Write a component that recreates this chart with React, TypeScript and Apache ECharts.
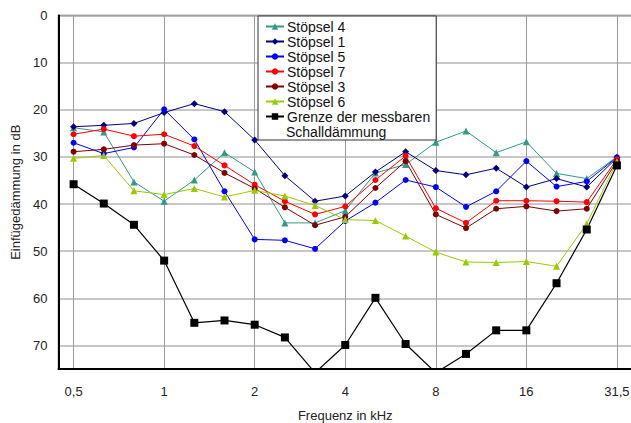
import React, { useEffect, useRef } from "react";
import * as echarts from "echarts";

const frequencies = ["0,5", "0,63", "0,8", "1", "1,25", "1,6", "2", "2,5", "3,15", "4", "5", "6,3", "8", "10", "12,5", "16", "20", "25", "31,5"];
const labelIndices = [0, 3, 6, 9, 12, 15, 18];
const yTicks = [0, 10, 20, 30, 40, 50, 60, 70];

const stoepsel4 = [23.8, 24.7, 35.3, 39.4, 34.9, 29.1, 33.2, 44.0, 44.0, 41.4, 33.4, 31.6, 26.9, 24.5, 29.1, 26.8, 33.5, 34.6, 30.0];
const stoepsel1 = [23.6, 23.3, 22.9, 20.6, 18.7, 20.4, 26.4, 34.0, 39.4, 38.3, 33.2, 28.9, 32.9, 33.8, 32.4, 36.4, 34.6, 36.4, 30.2];
const stoepsel5 = [27.0, 29.3, 28.0, 19.9, 26.3, 37.3, 47.5, 47.7, 49.5, 43.6, 39.7, 34.9, 36.4, 40.6, 37.3, 30.9, 36.3, 35.2, 30.1];
const stoepsel7 = [25.2, 24.1, 25.6, 25.2, 27.7, 31.8, 35.9, 39.4, 42.2, 40.5, 34.9, 29.8, 40.9, 44.0, 39.3, 39.3, 39.4, 39.6, 30.5];
const stoepsel3 = [28.9, 28.4, 27.5, 27.2, 29.6, 33.4, 36.7, 40.7, 44.5, 42.7, 36.6, 30.9, 42.2, 45.1, 41.0, 40.5, 41.5, 41.0, 30.9];
const stoepsel6 = [30.3, 29.7, 37.2, 38.0, 36.7, 38.5, 37.1, 38.3, 40.3, 43.3, 43.5, 46.8, 50.2, 52.3, 52.4, 52.2, 53.2, 44.2, 31.0];
const grenze = [35.8, 39.9, 44.4, 52.0, 65.2, 64.7, 65.6, 68.3, 75.8, 69.9, 59.9, 69.7, 75.8, 71.8, 66.8, 66.8, 56.8, 45.4, 31.8];

const FONT = "Arial, 'Liberation Sans', sans-serif";

function toPairs(values: number[]) {
  return values.map((v, i) => [i, v]);
}

export default function App() {
  const ref = useRef<HTMLDivElement>(null);
  useEffect(() => {
    if (!ref.current) return;
    const chart = echarts.init(ref.current, undefined, { renderer: "svg" });
    const mk = (name: string, data: number[], color: string, symbol: string, size: number, width = 1) => ({
      name,
      type: "line",
      data: toPairs(data),
      symbol,
      symbolSize: size,
      showSymbol: true,
      clip: true,
      lineStyle: { color, width },
      itemStyle: { color },
      emphasis: { disabled: true },
    });
    chart.setOption({
      animation: false,
      backgroundColor: "#ffffff",
      textStyle: { fontFamily: FONT },
      grid: {
        left: 58.5,
        top: 15.5,
        right: -1,
        bottom: 54,
        outerBoundsMode: "none",
        containLabel: false,
        show: true,
        borderColor: "#666",
        borderWidth: 1.5,
        backgroundColor: "transparent",
      },
      legend: {
        orient: "vertical",
        left: 258,
        top: 16,
        padding: [3, 6, 16, 7],
        itemGap: 0,
        itemWidth: 18,
        itemHeight: 8,
        backgroundColor: "#ffffff",
        borderColor: "#333",
        borderWidth: 1,
        borderRadius: 0,
        textStyle: { fontFamily: FONT, fontSize: 14, color: "#111", lineHeight: 15, padding: [0, 0, 0, -2] },
        data: ["Stöpsel 4", "Stöpsel 1", "Stöpsel 5", "Stöpsel 7", "Stöpsel 3", "Stöpsel 6", "Grenze der messbaren"],
        selectedMode: false,
      },
      graphic: [
        {
          type: "text",
          left: 286,
          top: 124.5,
          z: 100,
          style: { text: "Schalldämmung", fontFamily: FONT, fontSize: 14, fill: "#111" },
        },
      ],
      xAxis: {
        type: "value",
        min: -0.5,
        max: 18.5,
        name: "Frequenz in kHz",
        nameLocation: "middle",
        nameGap: 40,
        nameTextStyle: { fontFamily: FONT, fontSize: 13, color: "#222" },
        axisLine: { show: true, onZero: false, lineStyle: { color: "#000", width: 2 } },
        axisTick: { show: false, customValues: labelIndices },
        axisLabel: {
          customValues: labelIndices,
          formatter: (v: number) => frequencies[Math.round(v)] ?? "",
          fontFamily: FONT,
          fontSize: 13,
          color: "#222",
          margin: 16,
        },
        splitLine: { show: true, lineStyle: { color: "#9a9a9a", width: 1 } },
      },
      yAxis: {
        type: "value",
        inverse: true,
        min: 0,
        max: 75,
        interval: 10,
        name: "Einfügedämmung in dB",
        nameLocation: "middle",
        nameGap: 33,
        nameTextStyle: { fontFamily: FONT, fontSize: 13, color: "#222" },
        axisLine: { show: true, onZero: false, lineStyle: { color: "#000", width: 2 } },
        axisTick: { show: false },
        axisLabel: {
          fontFamily: FONT,
          fontSize: 13,
          color: "#222",
          margin: 11,
          showMaxLabel: false,
          formatter: (v: number) => (yTicks.includes(v) ? String(v) : ""),
        },
        splitLine: { show: true, lineStyle: { color: "#b4b4b4", width: 1.5 } },
      },
      series: [
        mk("Stöpsel 4", stoepsel4, "#2f9a88", "triangle", 7),
        mk("Stöpsel 1", stoepsel1, "#000080", "diamond", 7),
        mk("Stöpsel 5", stoepsel5, "#0000ff", "circle", 6),
        mk("Stöpsel 7", stoepsel7, "#ff0000", "circle", 6),
        mk("Stöpsel 3", stoepsel3, "#800000", "circle", 6),
        mk("Stöpsel 6", stoepsel6, "#99cc00", "triangle", 7),
        mk("Grenze der messbaren", grenze, "#000000", "rect", 8, 1.2),
      ],
    });
    return () => chart.dispose();
  }, []);
  return (
    <div
      ref={ref}
      style={{ position: "fixed", left: 0, top: 0, width: 631, height: 423, background: "#fff" }}
    />
  );
}
